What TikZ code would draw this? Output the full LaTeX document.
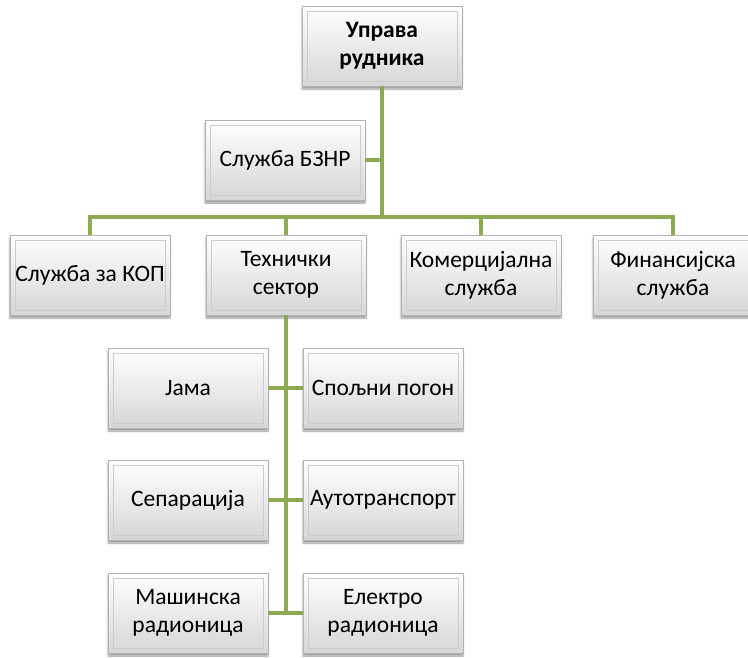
\documentclass[tikz,border=0pt]{standalone}
\usepackage{fontspec}
\setmainfont{Carlito}
\usetikzlibrary{shadows.blur}
\definecolor{conncol}{RGB}{140,170,82}
\tikzset{
  box/.style={rectangle, minimum width=160pt, minimum height=80pt, inner sep=1pt,
    draw=gray!60, line width=0.6pt, top color=white, bottom color=gray!32,
    align=center, font=\fontsize{23.5}{28}\selectfont,
    blur shadow={shadow xshift=0pt, shadow yshift=-3pt, shadow blur steps=6, shadow opacity=40},
    path picture={\draw[gray!40, line width=0.6pt]
      ([shift={(5pt,-5pt)}]path picture bounding box.north west) rectangle
      ([shift={(-5pt,5pt)}]path picture bounding box.south east);}},
  conn/.style={draw=conncol, line width=3.3pt}
}
\begin{document}
\begin{tikzpicture}[x=1pt,y=-1pt]
\useasboundingbox (0,0) rectangle (748,657);
\clip (0,0) rectangle (748,657);
\coordinate (j) at (382,217);
\coordinate (tt) at (286,613);
\node[box, font=\fontsize{23.5}{28}\selectfont\bfseries] (top) at (382,46) {Управа\\рудника};
\node[box] (bz) at (285,160) {Служба БЗНР};
\node[box] (kop) at (90,275) {Служба за КОП};
\node[box] (tech) at (286,275) {Технички\\сектор};
\node[box] (kom) at (481,275) {Комерцијална\\служба};
\node[box] (fin) at (673,275) {Финансијска\\служба};
\node[box] (jama) at (188,388) {Јама};
\node[box] (spo) at (383,388) {Спољни погон};
\node[box] (sep) at (188,500) {Сепарација};
\node[box] (auto) at (383,500) {Аутотранспорт};
\node[box] (mas) at (188,613) {Машинска\\радионица};
\node[box] (ele) at (383,613) {Електро\\радионица};
\draw[conn] (top.south) -- (j);
\draw[conn] (bz.east) -- (bz.east -| top);
\draw[conn] (kop.north) |- (j) -| (fin.north);
\draw[conn] (tech.north) -- (tech.north |- j);
\draw[conn] (kom.north) -- (kom.north |- j);
\draw[conn] (tech.south) -- (tt);
\draw[conn] (jama.east) -- (spo.west);
\draw[conn] (sep.east) -- (auto.west);
\draw[conn] (mas.east) -- (ele.west);
\end{tikzpicture}
\end{document}
